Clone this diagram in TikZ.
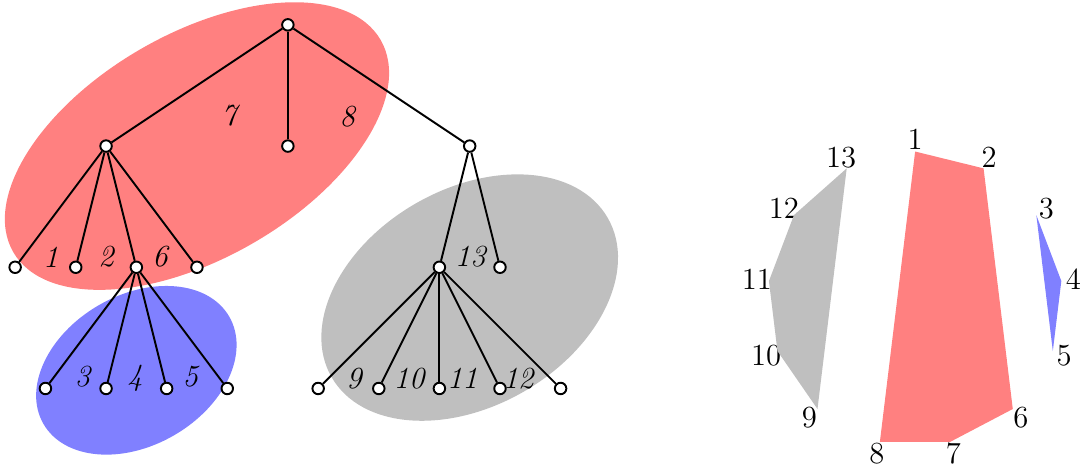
\documentclass[tikz,border=0pt]{standalone}
\usepackage{tikz}
\tikzset{
  vert/.style={circle, draw, fill=white, line width=0.9pt, inner sep=0pt, minimum size=5.4pt},
  treeedge/.style={line width=0.9pt},
  cls/.style={font=\Large\itshape},
  ptlabel/.style={font=\Large, inner sep=0pt}
}

\begin{document}
\begin{tikzpicture}
  \useasboundingbox (-0.25,-7.38) rectangle (17.62,0.41);

  % Regions behind the tree
  \fill[red!50, rotate around={30:(3,-2)}] (3,-2) ellipse (3.5cm and 1.85cm);
  \fill[blue!50, rotate around={30:(2,-5.7)}] (2,-5.7) ellipse (1.77cm and 1.24cm);
  \fill[gray!50, rotate around={30:(7.5,-4.5)}] (7.5,-4.5) ellipse (2.63cm and 1.79cm);

  % Tree vertices
  \node[vert] (r) at (4.5,0) {};
  \node[vert] (a) at (1.5,-2) {};
  \node[vert] (b) at (4.5,-2) {};
  \node[vert] (c) at (7.5,-2) {};
  \node[vert] (a1) at (0,-4) {};
  \node[vert] (a2) at (1,-4) {};
  \node[vert] (a3) at (2,-4) {};
  \node[vert] (a4) at (3,-4) {};
  \node[vert] (c1) at (7,-4) {};
  \node[vert] (c2) at (8,-4) {};
  \node[vert] (a31) at (0.5,-6) {};
  \node[vert] (a32) at (1.5,-6) {};
  \node[vert] (a33) at (2.5,-6) {};
  \node[vert] (a34) at (3.5,-6) {};
  \node[vert] (c11) at (5,-6) {};
  \node[vert] (c12) at (6,-6) {};
  \node[vert] (c13) at (7,-6) {};
  \node[vert] (c14) at (8,-6) {};
  \node[vert] (c15) at (9,-6) {};

  % Tree edges
  \foreach \v in {a,b,c} \draw[treeedge] (r) -- (\v);
  \foreach \v in {a1,a2,a3,a4} \draw[treeedge] (a) -- (\v);
  \foreach \v in {c1,c2} \draw[treeedge] (c) -- (\v);
  \foreach \v in {a31,a32,a33,a34} \draw[treeedge] (a3) -- (\v);
  \foreach \v in {c11,c12,c13,c14,c15} \draw[treeedge] (c1) -- (\v);

  % Class labels
  \node[cls] (l7) at (3.53,-1.49) {7};
  \node[cls] (l8) at (5.48,-1.52) {8};
  \node[cls] (l1) at (0.59,-3.83) {1};
  \node[cls] (l2) at (1.50,-3.83) {2};
  \node[cls] (l6) at (2.39,-3.83) {6};
  \node[cls] (l3) at (1.11,-5.81) {3};
  \node[cls] (l4) at (1.98,-5.83) {4};
  \node[cls] (l5) at (2.89,-5.81) {5};
  \node[cls] (l13) at (7.51,-3.83) {13};
  \node[cls] (l9) at (5.59,-5.83) {9};
  \node[cls] (l10) at (6.50,-5.83) {10};
  \node[cls] (l11) at (7.38,-5.83) {11};
  \node[cls] (l12) at (8.30,-5.83) {12};

  % Points on the circle
  \begin{scope}[shift={(14.85,-4.52)}]
    \foreach \k in {1,...,13} {
      \pgfmathsetmacro\ang{90-(\k-1)*360/13}
      \coordinate (p\k) at (\ang:2.43);
      \node[ptlabel] (t\k) at (\ang:2.63) {\k};
    }
  \end{scope}

  % Polygons
  \fill[red!50] (p1) -- (p2) -- (p6) -- (p7) -- (p8) -- cycle;
  \fill[blue!50] (p3) -- (p4) -- (p5) -- cycle;
  \fill[gray!50] (p9) -- (p10) -- (p11) -- (p12) -- (p13) -- cycle;
\end{tikzpicture}
\end{document}
